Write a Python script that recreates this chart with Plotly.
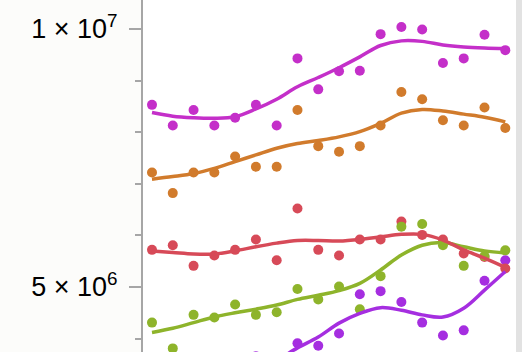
import plotly.graph_objects as go

# x positions (18 evenly spaced observations)
x = list(range(1, 19))

# series values (millions)
magenta_pts = [8.53, 8.13, 8.43, 8.13, 8.28, 8.53, 8.13, 9.43, 8.83, 9.18, 9.19, 9.90, 10.04, 9.99, 9.34, 9.43, 9.89, 9.59]
magenta_fit = [8.38, 8.31, 8.28, 8.27, 8.30, 8.45, 8.64, 8.88, 9.06, 9.25, 9.46, 9.68, 9.77, 9.76, 9.69, 9.65, 9.63, 9.62]

orange_pts = [7.22, 6.82, 7.22, 7.22, 7.53, 7.33, 7.33, 8.43, 7.73, 7.62, 7.73, 8.13, 8.78, 8.64, 8.23, 8.13, 8.48, 8.08]
orange_fit = [7.09, 7.14, 7.20, 7.30, 7.43, 7.56, 7.69, 7.78, 7.84, 7.91, 8.01, 8.17, 8.37, 8.44, 8.41, 8.35, 8.29, 8.20]

red_pts = [5.72, 5.81, 5.41, 5.61, 5.72, 5.92, 5.52, 6.52, 5.72, 5.61, 5.92, 5.92, 6.27, 6.01, 5.92, 5.65, 5.58, 5.36]
red_fit = [5.70, 5.67, 5.64, 5.64, 5.70, 5.78, 5.85, 5.90, 5.90, 5.89, 5.92, 5.97, 6.02, 6.02, 5.91, 5.72, 5.56, 5.38]

green_pts = [4.31, 3.81, 4.46, 4.41, 4.66, 4.46, 4.51, 4.96, 4.76, 5.01, 4.57, 5.21, 6.17, 6.22, 5.81, 5.41, 5.60, 5.71]
green_fit = [4.12, 4.20, 4.31, 4.42, 4.50, 4.57, 4.65, 4.76, 4.84, 4.93, 5.07, 5.33, 5.62, 5.81, 5.86, 5.78, 5.70, 5.66]

purple_pts = [3.00, 2.90, 3.10, 3.20, 3.10, 3.66, 3.30, 3.91, 3.86, 4.10, 4.86, 4.92, 4.71, 4.31, 4.06, 4.16, 5.12, 5.52]
purple_fit = [3.10, 3.12, 3.15, 3.20, 3.28, 3.40, 3.58, 3.82, 4.03, 4.30, 4.49, 4.60, 4.55, 4.46, 4.42, 4.59, 4.94, 5.30]

# tick labels
tick_values = [5e6, 1e7]
tick_labels = ["5 × 10<sup>6</sup>", "1 × 10<sup>7</sup>"]

colors = {
    "magenta": "#c42fc9",
    "orange": "#d17b2c",
    "red": "#d74a58",
    "green": "#8eb42b",
    "purple": "#a52ee0",
}

def M(v):
    return [a * 1e6 for a in v]

fig = go.Figure()

# points (bottom to top)
for name, pts in [("purple", purple_pts), ("red", red_pts), ("green", green_pts),
                  ("orange", orange_pts), ("magenta", magenta_pts)]:
    fig.add_trace(go.Scatter(x=x, y=M(pts), mode="markers",
                             marker=dict(size=10, color=colors[name], line=dict(width=0)),
                             showlegend=False, hoverinfo="skip"))

# fitted curves
for name, fit in [("purple", purple_fit), ("green", green_fit), ("red", red_fit),
                  ("orange", orange_fit), ("magenta", magenta_fit)]:
    fig.add_trace(go.Scatter(x=x, y=M(fit), mode="lines",
                             line=dict(color=colors[name], width=3.5, shape="spline", smoothing=1),
                             showlegend=False, hoverinfo="skip"))

fig.add_shape(type="rect", xref="paper", yref="paper", x0=1.0, x1=1.02, y0=0, y1=1,
              fillcolor="#e2e2e2", line=dict(width=0), layer="above")

fig.update_layout(
    width=522, height=352,
    margin=dict(l=143, r=6, t=0, b=0),
    paper_bgcolor="#fcfcfa",
    plot_bgcolor="#ffffff",
    font=dict(family="Liberation Sans, Arial, sans-serif", size=27, color="#000000"),
    xaxis=dict(visible=False, range=[0.567, 18.515]),
    yaxis=dict(
        range=[3.7403e6, 1.05620e7],
        tickmode="array", tickvals=tick_values, ticktext=tick_labels,
        ticks="outside", ticklen=12, tickwidth=2, tickcolor="#a6a6a6",
        showline=True, linewidth=2, linecolor="#a6a6a6",
        showgrid=False, zeroline=False,
        ticklabelstandoff=6,
        minor=dict(tickmode="linear", tick0=0, dtick=1e6, ticks="outside",
                   ticklen=6, tickwidth=2, tickcolor="#a6a6a6", showgrid=False),
    ),
)

fig.write_html("out.html")
